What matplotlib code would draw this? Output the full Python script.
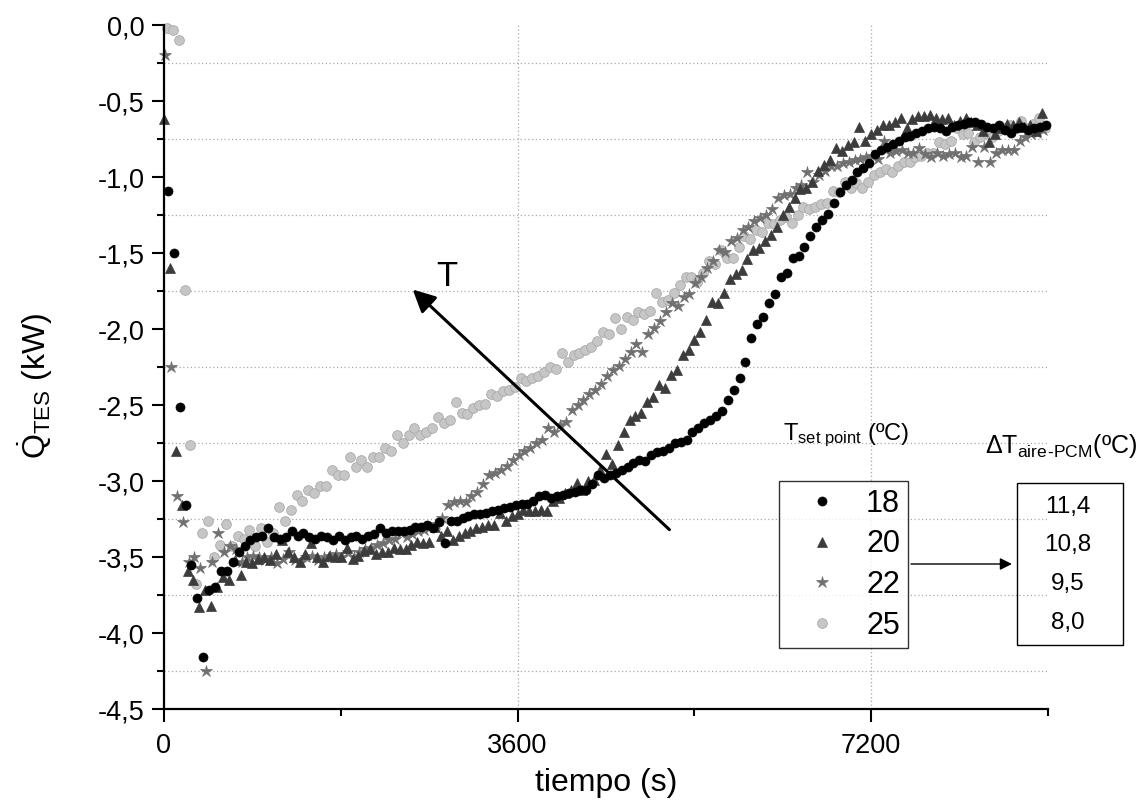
import numpy as np
import matplotlib
matplotlib.use('Agg')
import matplotlib.pyplot as plt
from matplotlib.ticker import MultipleLocator, FixedLocator, FuncFormatter
from matplotlib.patches import Rectangle

plt.rcParams['font.family'] = ['Liberation Sans', 'DejaVu Sans']
plt.rcParams['mathtext.fontset'] = 'custom'
plt.rcParams['mathtext.rm'] = 'Liberation Sans'
plt.rcParams['mathtext.it'] = 'Liberation Sans:italic'
plt.rcParams['mathtext.bf'] = 'Liberation Sans:bold'
plt.rcParams['axes.unicode_minus'] = False

# registro cada 60 s; instante del primer punto de cada ensayo
intervalo = 60
t_inicio = {'18': 40, '20': 0, '22': 10, '25': 30}

# Q_TES (kW) para cada consigna (ºC)
q18 = [-1.09, -1.50, -2.51, -3.16, -3.55, -3.77, -4.16, -3.72, -3.70, -3.59,
       -3.59, -3.53, -3.47, -3.43, -3.39, -3.37, -3.36, -3.31, -3.37, -3.38,
       -3.37, -3.33, -3.36, -3.34, -3.37, -3.38, -3.36, -3.37, -3.39, -3.36,
       -3.39, -3.37, -3.36, -3.38, -3.36, -3.35, -3.31, -3.34, -3.33, -3.33,
       -3.33, -3.32, -3.30, -3.30, -3.29, -3.31, -3.27, -3.41, -3.26, -3.26,
       -3.24, -3.23, -3.22, -3.22, -3.21, -3.20, -3.19, -3.18, -3.17, -3.16,
       -3.15, -3.15, -3.13, -3.10, -3.09, -3.11, -3.10, -3.09, -3.08, -3.07,
       -3.06, -3.06, -3.02, -2.96, -2.98, -2.96, -2.95, -2.93, -2.91, -2.88,
       -2.86, -2.87, -2.83, -2.81, -2.80, -2.78, -2.75, -2.74, -2.73, -2.68,
       -2.65, -2.62, -2.60, -2.57, -2.54, -2.47, -2.40, -2.32, -2.22, -2.06,
       -1.97, -1.92, -1.83, -1.77, -1.66, -1.63, -1.53, -1.52, -1.46, -1.39,
       -1.33, -1.28, -1.24, -1.17, -1.10, -1.05, -1.02, -0.97, -0.94, -0.91,
       -0.85, -0.82, -0.80, -0.78, -0.76, -0.74, -0.73, -0.71, -0.70, -0.68,
       -0.67, -0.68, -0.70, -0.67, -0.66, -0.65, -0.64, -0.64, -0.65, -0.67,
       -0.68, -0.66, -0.69, -0.71, -0.68, -0.67, -0.69, -0.68, -0.67, -0.66]

q20 = [-0.62, -1.60, -2.80, -3.16, -3.59, -3.65, -3.83, -3.72, -3.82, -3.70,
       -3.63, -3.65, -3.52, -3.62, -3.53, -3.54, -3.51, -3.50, -3.52, -3.48,
       -3.39, -3.47, -3.50, -3.53, -3.48, -3.41, -3.50, -3.53, -3.49, -3.50,
       -3.50, -3.44, -3.51, -3.49, -3.46, -3.45, -3.48, -3.47, -3.47, -3.44,
       -3.45, -3.45, -3.42, -3.40, -3.41, -3.40, -3.30, -3.36, -3.33, -3.39,
       -3.36, -3.34, -3.33, -3.31, -3.30, -3.29, -3.29, -3.21, -3.26, -3.23,
       -3.22, -3.19, -3.20, -3.20, -3.19, -3.20, -3.13, -3.11, -3.08, -3.06,
       -3.01, -3.06, -3.00, -2.99, -2.93, -2.82, -2.89, -2.76, -2.68, -2.60,
       -2.57, -2.55, -2.48, -2.45, -2.37, -2.39, -2.30, -2.27, -2.17, -2.14,
       -2.07, -2.02, -1.94, -1.82, -1.83, -1.76, -1.67, -1.64, -1.61, -1.54,
       -1.48, -1.47, -1.42, -1.38, -1.33, -1.25, -1.20, -1.14, -1.08, -1.07,
       -1.03, -0.96, -0.92, -0.89, -0.81, -0.83, -0.79, -0.77, -0.67, -0.76,
       -0.72, -0.69, -0.66, -0.66, -0.64, -0.61, -0.68, -0.62, -0.60, -0.60,
       -0.59, -0.61, -0.62, -0.61, -0.66, -0.63, -0.61, -0.64, -0.66, -0.70,
       -0.77, -0.72, -0.68, -0.65, -0.66, -0.64, -0.67, -0.66, -0.70, -0.58]

q22 = [-0.20, -2.25, -3.10, -3.27, -3.53, -3.50, -3.57, -4.25, -3.53, -3.34,
       -3.47, -3.43, -3.45, -3.53, -3.50, -3.49, -3.50, -3.52, -3.50, -3.54,
       -3.51, -3.47, -3.52, -3.53, -3.50, -3.49, -3.52, -3.50, -3.49, -3.48,
       -3.50, -3.47, -3.50, -3.47, -3.45, -3.44, -3.42, -3.41, -3.39, -3.38,
       -3.34, -3.37, -3.35, -3.33, -3.32, -3.30, -3.28, -3.24, -3.16, -3.14,
       -3.13, -3.14, -3.10, -3.07, -3.02, -2.96, -2.95, -2.93, -2.90, -2.86,
       -2.83, -2.80, -2.78, -2.75, -2.73, -2.65, -2.68, -2.63, -2.61, -2.53,
       -2.50, -2.47, -2.43, -2.40, -2.36, -2.31, -2.27, -2.24, -2.20, -2.15,
       -2.10, -2.15, -2.03, -1.99, -1.95, -1.89, -1.83, -1.85, -1.79, -1.77,
       -1.70, -1.66, -1.60, -1.55, -1.48, -1.49, -1.42, -1.40, -1.35, -1.33,
       -1.29, -1.27, -1.25, -1.21, -1.14, -1.12, -1.11, -1.07, -1.05, -0.97,
       -1.03, -0.99, -0.96, -0.93, -0.93, -0.91, -0.90, -0.89, -0.88, -0.87,
       -0.86, -0.88, -0.76, -0.84, -0.83, -0.82, -0.84, -0.84, -0.81, -0.85,
       -0.87, -0.84, -0.86, -0.85, -0.84, -0.87, -0.86, -0.80, -0.90, -0.80,
       -0.90, -0.84, -0.82, -0.82, -0.82, -0.76, -0.74, -0.72, -0.71, -0.69]

q25 = [-0.02, -0.03, -0.10, -1.74, -2.76, -3.68, -3.34, -3.26, -3.50, -3.42,
       -3.28, -3.43, -3.36, -3.38, -3.32, -3.43, -3.31, -3.40, -3.34, -3.17,
       -3.26, -3.19, -3.09, -3.13, -3.06, -3.08, -3.03, -3.03, -2.93, -2.96,
       -2.96, -2.84, -2.91, -2.86, -2.91, -2.84, -2.84, -2.78, -2.80, -2.70,
       -2.75, -2.70, -2.65, -2.70, -2.68, -2.65, -2.58, -2.62, -2.60, -2.48,
       -2.55, -2.56, -2.52, -2.50, -2.49, -2.43, -2.44, -2.41, -2.40, -2.38,
       -2.32, -2.34, -2.32, -2.31, -2.28, -2.25, -2.26, -2.16, -2.22, -2.17,
       -2.16, -2.14, -2.12, -2.08, -2.02, -2.03, -1.93, -2.00, -1.92, -1.94,
       -1.89, -1.90, -1.88, -1.76, -1.82, -1.81, -1.76, -1.71, -1.66, -1.66,
       -1.69, -1.63, -1.55, -1.57, -1.48, -1.53, -1.53, -1.46, -1.39, -1.41,
       -1.35, -1.36, -1.30, -1.31, -1.28, -1.26, -1.30, -1.25, -1.20, -1.21,
       -1.20, -1.18, -1.17, -1.09, -1.10, -1.03, -1.07, -1.04, -1.07, -1.03,
       -0.99, -0.97, -0.95, -0.97, -0.93, -0.90, -0.90, -0.87, -0.86, -0.84,
       -0.84, -0.77, -0.78, -0.76, -0.68, -0.72, -0.71, -0.77, -0.74, -0.71,
       -0.74, -0.70, -0.68, -0.66, -0.68, -0.63, -0.68, -0.65, -0.61, -0.68]

consignas = ['18', '20', '22', '25']
series = {'18': q18, '20': q20, '22': q22, '25': q25}
delta_t = ['11,4', '10,8', '9,5', '8,0']

estilos = {
    '18': dict(marker='o', ms=6.5, mfc='black', mec='black', mew=0.5),
    '20': dict(marker='^', ms=7.5, mfc='#3c3c3c', mec='#3c3c3c', mew=0.5),
    '22': dict(marker='*', ms=9, mfc='#707070', mec='#707070', mew=0.5),
    '25': dict(marker='o', ms=7, mfc='#c6c6c6', mec='#aaaaaa', mew=0.6),
}

fig = plt.figure(figsize=(11.45, 8.07), dpi=100)
ax = fig.add_axes([0.1432, 0.1214, 0.7721, 0.8476])

lineas = {}
for c in ['25', '22', '20', '18']:
    q = series[c]
    t = t_inicio[c] + intervalo * np.arange(len(q))
    lineas[c], = ax.plot(t, q, linestyle='none', clip_on=False, **estilos[c])

ax.set_xlim(0, 9000)
ax.set_ylim(-4.5, 0)
ax.xaxis.set_major_locator(FixedLocator([0, 3600, 7200]))
ax.xaxis.set_minor_locator(FixedLocator([1800, 5400, 9000]))
ax.yaxis.set_major_locator(MultipleLocator(0.5))
ax.yaxis.set_minor_locator(MultipleLocator(0.25))
ax.yaxis.set_major_formatter(FuncFormatter(lambda v, p: f'{v:.1f}'.replace('.', ',')))

for s in ['top', 'right']:
    ax.spines[s].set_visible(False)
for s in ['left', 'bottom']:
    ax.spines[s].set_linewidth(1.6)

ax.tick_params(which='major', direction='out', length=9, width=1.5, labelsize=19.5)
ax.tick_params(which='minor', direction='out', length=5, width=1.5)
ax.tick_params(axis='x', which='major', pad=8)
ax.tick_params(axis='y', which='major', pad=5)

ax.set_axisbelow(True)
ax.yaxis.grid(True, which='both', linestyle=(0, (1, 2)), color='#a8a8a8', lw=0.9)
ax.xaxis.grid(True, which='major', linestyle=(0, (1, 2)), color='#a8a8a8', lw=0.9)
for tk in ax.yaxis.get_major_ticks():
    if abs(tk.get_loc()) < 1e-9:
        tk.gridline.set_visible(False)

ax.set_xlabel('tiempo (s)', fontsize=23)
ax.xaxis.set_label_coords(0.5, -0.086)
ax.set_ylabel(r'$\dot{\mathrm{Q}}_{\mathrm{TES}}$ (kW)', fontsize=23, va='center')
ax.yaxis.set_label_coords(-0.145, 0.472)

# flecha de tendencia con la temperatura de consigna
ax.annotate('', xy=(2532, -1.74), xytext=(5146, -3.32),
            arrowprops=dict(arrowstyle='-|>', lw=2.2, color='black',
                            mutation_scale=34, shrinkA=0, shrinkB=0))
ax.text(2878, -1.72, 'T', fontsize=25, ha='center', va='baseline')

# leyenda de consignas
leg = ax.legend([lineas[c] for c in consignas], consignas,
                loc='upper left', bbox_to_anchor=(779 / 1145, 1 - 481 / 807),
                bbox_transform=fig.transFigure, fontsize=22, frameon=True,
                fancybox=False, edgecolor='black', borderpad=0.25,
                borderaxespad=0, handlelength=2.3, handletextpad=0.3,
                labelspacing=0.35, numpoints=1)
leg.get_frame().set_linewidth(1.0)
fig.text(783 / 1145, 1 - 440 / 807, r'T$_{\mathrm{set\ point}}$ (ºC)',
         fontsize=17, va='baseline')

# caja de incrementos de temperatura aire-PCM
fig.add_artist(Rectangle((1017 / 1145, 1 - 645 / 807), 106 / 1145, 162 / 807,
                         transform=fig.transFigure, fill=False,
                         edgecolor='black', lw=1.0))
for i, d in enumerate(delta_t):
    fig.text(1068 / 1145, 1 - (507 + 38.5 * i) / 807, d, fontsize=17.5,
             ha='center', va='center')
fig.text(985 / 1145, 1 - 453 / 807, r'$\Delta$T$_{\mathrm{aire}}$'
         r'$_{\text{-}\mathrm{PCM}}$(ºC)', fontsize=18, va='baseline')
ax.annotate('', xy=(1012 / 1145, 1 - 564 / 807), xytext=(911 / 1145, 1 - 564 / 807),
            xycoords='figure fraction', textcoords='figure fraction',
            arrowprops=dict(arrowstyle='-|>', lw=1.0, color='black',
                            mutation_scale=18, shrinkA=0, shrinkB=0))

fig.savefig('out.png', dpi=100)
